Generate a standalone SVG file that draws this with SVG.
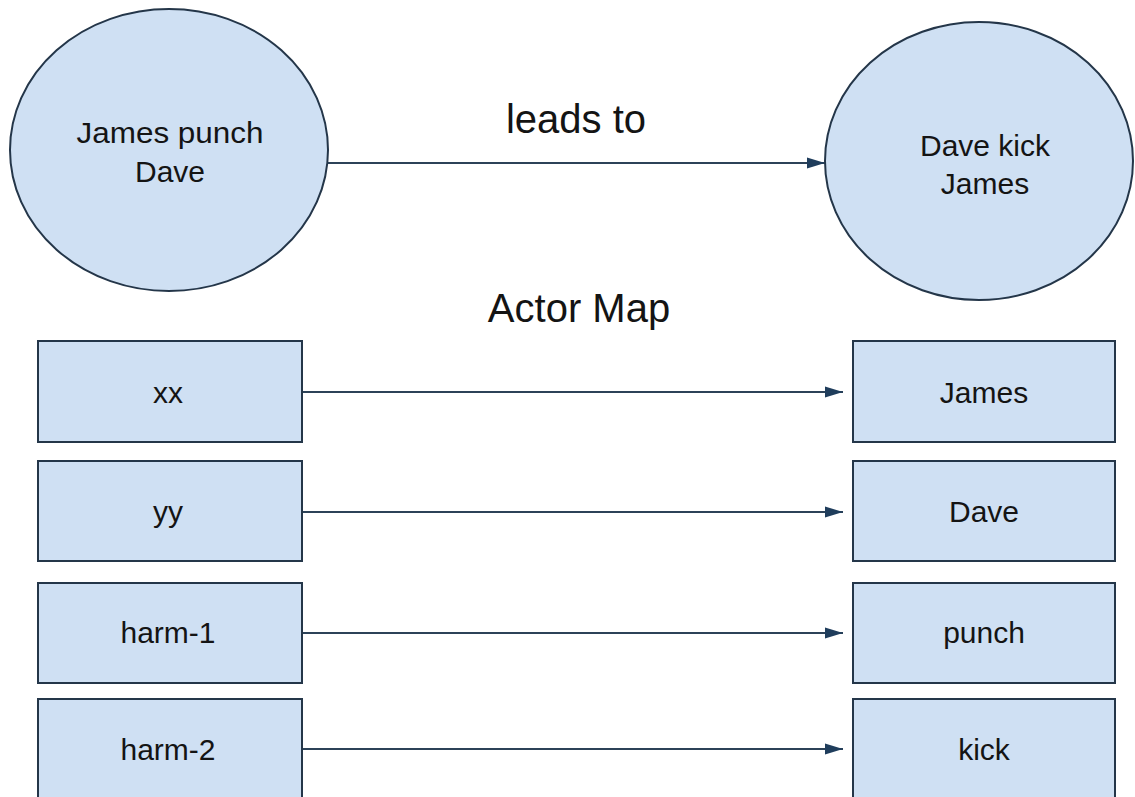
<svg xmlns="http://www.w3.org/2000/svg" width="1135" height="797" viewBox="0 0 1135 797">
<defs>
<style>
.shape{fill:#cfe0f3;stroke:#243649;stroke-width:2}
.t{font-family:"Liberation Sans",Arial,sans-serif;fill:#141414;text-anchor:middle}
.big{font-size:40px}
.node{font-size:30px}
.edge{stroke:#2c4258;stroke-width:2;fill:none;marker-end:url(#ah)}
</style>
<marker id="ah" markerWidth="18" markerHeight="12" refX="18" refY="6" orient="auto" markerUnits="userSpaceOnUse">
<path d="M0,0.5 L18,6 L0,11.5 Z" fill="#1f3d5c"/>
</marker>
</defs>
<rect width="1135" height="797" fill="#ffffff"/>
<g id="connectors">
<line class="edge" x1="328" y1="163" x2="825" y2="163"/>
<line class="edge" x1="302" y1="392" x2="843" y2="392"/>
<line class="edge" x1="302" y1="512" x2="843" y2="512"/>
<line class="edge" x1="302" y1="633" x2="843" y2="633"/>
<line class="edge" x1="302" y1="749" x2="843" y2="749"/>
</g>
<g id="label-leads"><text class="t big" x="576" y="133">leads to</text></g>
<g id="label-actor-map"><text class="t big" x="579" y="322" font-size="41">Actor Map</text></g>
<g id="ev1">
<ellipse class="shape" cx="169" cy="150" rx="159" ry="141"/>
<text class="t node" x="170" y="143" textLength="187" lengthAdjust="spacingAndGlyphs">James punch</text>
<text class="t node" x="170" y="182">Dave</text>
</g>
<g id="ev2">
<ellipse class="shape" cx="979" cy="161" rx="154" ry="139"/>
<text class="t node" x="985" y="156">Dave kick</text>
<text class="t node" x="985" y="194">James</text>
</g>
<g id="n-xx"><rect class="shape" x="38" y="341" width="264" height="101"/><text class="t node" x="168" y="403">xx</text></g>
<g id="n-yy"><rect class="shape" x="38" y="461" width="264" height="100"/><text class="t node" x="168" y="522">yy</text></g>
<g id="n-harm1"><rect class="shape" x="38" y="583" width="264" height="100"/><text class="t node" x="168" y="643">harm-1</text></g>
<g id="n-harm2"><rect class="shape" x="38" y="699" width="264" height="110"/><text class="t node" x="168" y="760">harm-2</text></g>
<g id="n-james"><rect class="shape" x="853" y="341" width="262" height="101"/><text class="t node" x="984" y="403">James</text></g>
<g id="n-dave"><rect class="shape" x="853" y="461" width="262" height="100"/><text class="t node" x="984" y="522">Dave</text></g>
<g id="n-punch"><rect class="shape" x="853" y="583" width="262" height="100"/><text class="t node" x="984" y="643">punch</text></g>
<g id="n-kick"><rect class="shape" x="853" y="699" width="262" height="110"/><text class="t node" x="984" y="760">kick</text></g>
</svg>
